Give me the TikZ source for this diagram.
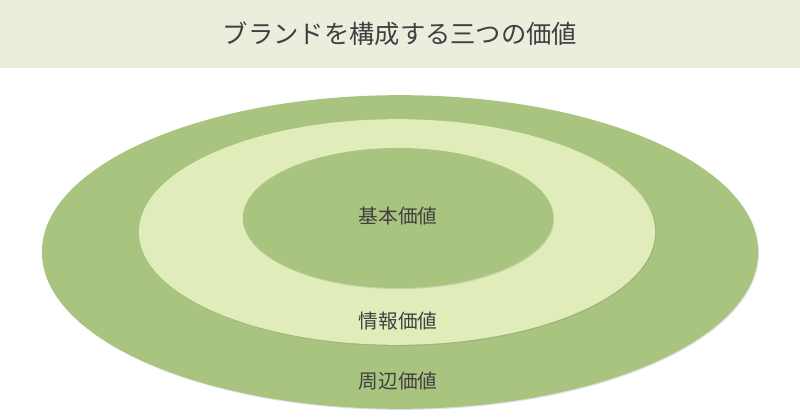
\documentclass[tikz,border=0pt]{standalone}
\usepackage{fontspec}
\newfontfamily\cjk{Noto Sans CJK JP}
\usetikzlibrary{shadows}
\definecolor{band}{HTML}{EBEEDD}
\definecolor{outer}{HTML}{A9C47F}
\definecolor{inner}{HTML}{E0EDBB}
\definecolor{ink}{HTML}{404040}
\tikzset{
  ring/.style={line width=0pt, draw=none, drop shadow={shadow xshift=0.6pt, shadow yshift=-0.8pt, opacity=0.25}},
  lab/.style={text=ink, font=\cjk\fontsize{14}{16}\selectfont},
  ttl/.style={text=ink, font=\cjk\fontsize{18}{22}\selectfont},
}
\begin{document}
\begin{tikzpicture}[x=0.025cm,y=-0.025cm]
  \useasboundingbox (0,0) rectangle (800,419);
  \fill[band] (0,0) rectangle (800,68);
  \node[ttl] (title) at (400,34) {ブランドを構成する三つの価値};

  \path[ring, fill=outer] (400,252) ellipse [x radius=8.95cm, y radius=3.92cm];
  \path[ring, fill=inner] (397,232) ellipse [x radius=6.45cm, y radius=2.82cm];
  \path[ring, fill=outer] (398,218) ellipse [x radius=3.88cm, y radius=1.75cm];

  \node[lab] (core) at (398,216) {基本価値};
  \node[lab] (info) at (398,321) {情報価値};
  \node[lab] (peri) at (398,381) {周辺価値};
\end{tikzpicture}
\end{document}
